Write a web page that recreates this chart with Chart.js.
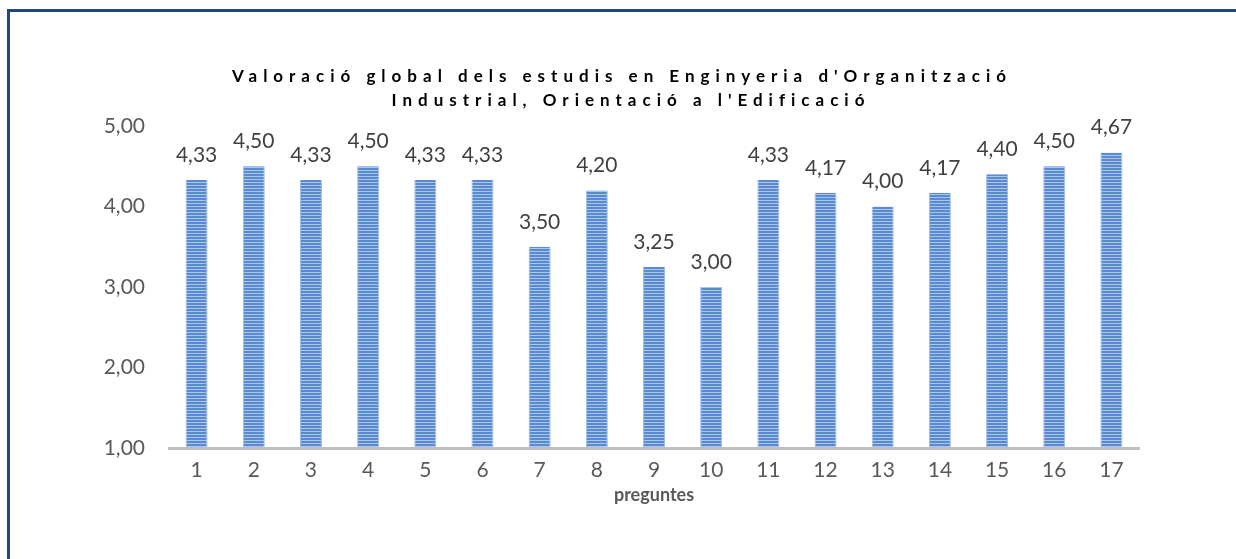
<!DOCTYPE html>
<html>
<head>
<meta charset="utf-8">
<script src="https://cdn.jsdelivr.net/npm/chart.js@4.4.1/dist/chart.umd.min.js"></script>
<style>
  html, body { margin: 0; padding: 0; background: #fff; }
  #wrap { position: relative; width: 1236px; height: 559px; overflow: hidden; }
  #frame { position: absolute; left: 7px; top: 9px; width: 1300px; height: 700px;
           border-left: 3px solid #1f497d; border-top: 3px solid #1f497d; pointer-events: none; }
  canvas { position: absolute; left: 0; top: 0; }
</style>
</head>
<body>
<div id="wrap">
  <canvas id="c" width="1236" height="559"></canvas>
  <div id="frame"></div>
</div>
<script>
const categories = ['1','2','3','4','5','6','7','8','9','10','11','12','13','14','15','16','17'];
const values = [4.33, 4.50, 4.33, 4.50, 4.33, 4.33, 3.50, 4.20, 3.25, 3.00, 4.33, 4.17, 4.00, 4.17, 4.40, 4.50, 4.67];
const yTicks = [1, 2, 3, 4, 5];
const titleLines = ["Valoració global dels estudis en Enginyeria d'Organització", "Industrial, Orientació a l'Edificació"];
const xAxisTitle = 'preguntes';

const FONT = 'Lato, "Open Sans", sans-serif';
const fmt = v => v.toFixed(2).replace('.', ',');

function makePattern(ctx) {
  const p = document.createElement('canvas');
  p.width = 4; p.height = 3;
  const pc = p.getContext('2d');
  pc.fillStyle = '#5a8ad0'; pc.fillRect(0, 0, 4, 2);
  pc.fillStyle = '#a9c5ec'; pc.fillRect(0, 2, 4, 1);
  return ctx.createPattern(p, 'repeat');
}

const ctx = document.getElementById('c').getContext('2d');

const titlePlugin = {
  id: 'spacedTitle',
  afterDraw(chart) {
    const c = chart.ctx;
    c.save();
    c.font = 'bold 17px ' + FONT;
    c.fillStyle = '#000';
    c.textAlign = 'center';
    c.textBaseline = 'middle';
    c.letterSpacing = '6px';
    c.fillText(titleLines[0], 622, 77);
    c.fillText(titleLines[1], 631, 101);
    c.restore();
  }
};

const labelPlugin = {
  id: 'valueLabels',
  afterDatasetsDraw(chart) {
    const c = chart.ctx;
    const meta = chart.getDatasetMeta(0);
    c.save();
    c.font = '21px ' + FONT;
    c.fillStyle = '#404040';
    c.textAlign = 'center';
    c.textBaseline = 'middle';
    meta.data.forEach((bar, i) => {
      c.fillText(fmt(values[i]), bar.x, bar.y - 25);
    });
    c.restore();
  }
};

const axisLinePlugin = {
  id: 'axisLine',
  afterDatasetsDraw(chart) {
    const a = chart.chartArea;
    const c = chart.ctx;
    c.save();
    c.strokeStyle = '#bfbfbf';
    c.lineWidth = 3;
    c.beginPath();
    c.moveTo(a.left, chart.scales.y.getPixelForValue(1) + 0.5);
    c.lineTo(a.right, chart.scales.y.getPixelForValue(1) + 0.5);
    c.stroke();
    c.restore();
  }
};

new Chart(ctx, {
  type: 'bar',
  data: {
    labels: categories,
    datasets: [{
      data: values,
      backgroundColor: makePattern(ctx),
      borderColor: '#9dbce6',
      borderWidth: { left: 1, right: 1, top: 0, bottom: 0 },
      categoryPercentage: 1,
      barPercentage: 0.385,
      base: 1
    }]
  },
  options: {
    responsive: false,
    animation: false,
    events: [],
    layout: { padding: { top: 126, right: 96, bottom: 55, left: 0 } },
    plugins: { legend: { display: false }, tooltip: { enabled: false }, title: { display: false } },
    scales: {
      x: {
        grid: { display: false, drawTicks: false },
        border: { display: false },
        ticks: { color: '#595959', font: { family: FONT, size: 21, lineHeight: 1.0 }, padding: 12, maxRotation: 0 },
        title: { display: true, text: xAxisTitle, color: '#595959', font: { family: FONT, size: 18, weight: 'bold', lineHeight: 1.0 }, padding: { top: -7, bottom: 0 } }
      },
      y: {
        min: 1, max: 5,
        afterBuildTicks(scale) { scale.ticks = yTicks.map(v => ({ value: v })); },
        afterFit(scale) { scale.width = 168; },
        grid: { display: false, drawTicks: false },
        border: { display: false },
        ticks: { color: '#595959', font: { family: FONT, size: 21 }, padding: 23, callback: v => fmt(v) }
      }
    }
  },
  plugins: [titlePlugin, labelPlugin, axisLinePlugin]
});
</script>
</body>
</html>
